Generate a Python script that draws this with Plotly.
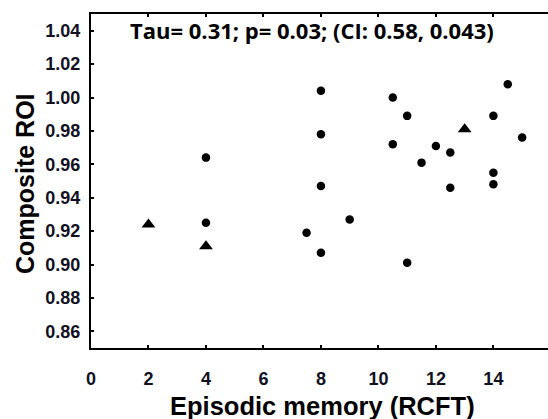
import plotly.graph_objects as go

# Data
circle_x = [4, 4, 7.5, 8, 8, 8, 8, 9, 10.5, 10.5, 11, 11, 11.5, 12, 12.5, 12.5, 14, 14, 14, 14.5, 15]
circle_y = [0.964, 0.925, 0.919, 1.004, 0.978, 0.947, 0.907, 0.927, 1.000, 0.972, 0.989, 0.901,
            0.961, 0.971, 0.967, 0.946, 0.989, 0.955, 0.948, 1.008, 0.976]
tri_x = [2, 4, 13]
tri_y = [0.924, 0.911, 0.981]

x_ticks = [0, 2, 4, 6, 8, 10, 12, 14]
y_ticks = [0.86, 0.88, 0.90, 0.92, 0.94, 0.96, 0.98, 1.00, 1.02, 1.04]

stat_text = "Tau= 0.31; p= 0.03; (CI: 0.58, 0.043)"
x_title = "Episodic memory (RCFT)"
y_title = "Composite ROI"

L, R, T, B = 91, 0, 14, 71
W, H = 548, 419
plot_w = W - L - R
plot_h = H - T - B


def px_x(px):
    return (px - L) / plot_w


def px_y(py):
    return (H - B - py) / plot_h


fig = go.Figure()
fig.add_trace(go.Scatter(x=circle_x, y=circle_y, mode="markers",
                         marker=dict(symbol="circle", size=8.5, color="black"), showlegend=False))
fig.add_trace(go.Scatter(x=tri_x, y=tri_y, mode="markers",
                         marker=dict(symbol="triangle-up", size=12, color="black"), showlegend=False))

tick_font = dict(family="Liberation Sans, Arial", size=18, color="#111122", weight="bold")
fig.update_layout(
    template="none",
    width=W, height=H,
    margin=dict(l=L, r=R, t=T, b=B, pad=0),
    plot_bgcolor="white", paper_bgcolor="white",
    xaxis=dict(range=[0, 15.9], tickvals=x_ticks, ticktext=[str(v) for v in x_ticks],
               showgrid=False, zeroline=False, showline=True, linecolor="black", linewidth=2,
               mirror="ticks", ticks="inside", ticklen=3, tickwidth=1.5, tickcolor="black",
               tickfont=tick_font, ticklabelstandoff=13, automargin=False),
    yaxis=dict(range=[0.85, 1.05], tickvals=y_ticks, ticktext=[f"{v:.2f}" for v in y_ticks],
               showgrid=False, zeroline=False, showline=True, linecolor="black", linewidth=2,
               ticks="inside", ticklen=3, tickwidth=1.5, tickcolor="black",
               tickfont=tick_font, ticklabelstandoff=5, automargin=False),
    annotations=[
        dict(text="<b>" + stat_text + "</b>", x=px_x(312), y=px_y(30), xref="paper", yref="paper",
             xanchor="center", yanchor="middle", showarrow=False,
             font=dict(family="Open Sans", size=22, color="black")),
        dict(text="<b>" + x_title + "</b>", x=px_x(322), y=px_y(406), xref="paper", yref="paper",
             xanchor="center", yanchor="middle", showarrow=False,
             font=dict(family="Liberation Sans, Arial", size=25.5, color="black")),
        dict(text="<b>" + y_title + "</b>", x=px_x(25), y=px_y(184), xref="paper", yref="paper",
             xanchor="center", yanchor="middle", textangle=-90, showarrow=False,
             font=dict(family="Liberation Sans, Arial", size=25, color="black")),
    ],
)

fig.write_html("out.html", config={"displayModeBar": False},
               post_script="document.body.style.margin='0px';document.body.style.overflow='hidden';")
